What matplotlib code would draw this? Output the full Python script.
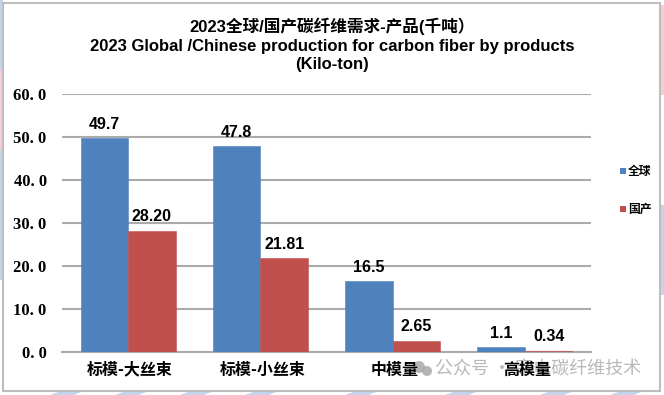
import matplotlib
matplotlib.use("Agg")
import matplotlib.pyplot as plt
from matplotlib.patches import Rectangle, Polygon, Circle
from matplotlib.transforms import ScaledTranslation
import numpy as np

categories = ["标模-大丝束", "标模-小丝束", "中模量", "高模量"]
global_vals = [49.7, 47.8, 16.5, 1.1]
china_vals = [28.20, 21.81, 2.65, 0.34]
global_labels = ["49.7", "47.8", "16.5", "1.1"]
china_labels = ["28.20", "21.81", "2.65", "0.34"]
y_ticks = [0, 10, 20, 30, 40, 50, 60]
y_tick_labels = ["0. 0", "10. 0", "20. 0", "30. 0", "40. 0", "50. 0", "60. 0"]
series_names = ["全球", "国产"]
title_lines = ["2023全球/国产碳纤维需求-产品(千吨）",
               "2023 Global /Chinese production for carbon fiber by products",
               "(Kilo-ton)"]
watermark = "公众号 · 寒电碳纤维技术"

W, H = 664, 395
BLUE, RED = "#4F81BD", "#C0504D"
SANS = ["Liberation Sans", "Noto Sans CJK SC", "DejaVu Sans"]
CJK = ["Noto Sans CJK SC", "DejaVu Sans"]

fig = plt.figure(figsize=(W / 100, H / 100), dpi=100, facecolor="white")

# page layer in pixel coordinates (y down)
bg = fig.add_axes([0, 0, 1, 1], zorder=0)
bg.set_xlim(0, W); bg.set_ylim(H, 0); bg.axis("off")
bg.add_patch(Rectangle((0, 0), 3, 70, fc="#C6D3EE", ec="none"))
bg.add_patch(Rectangle((0, 70), 3, 80, fc="#F5CDD3", ec="none"))
bg.add_patch(Rectangle((0, 150), 3, 130, fc="#C6D3EE", ec="none"))
bg.add_patch(Rectangle((660, 5), 4, 90, fc="#F5CDD3", ec="none"))
bg.add_patch(Rectangle((660, 205), 4, 90, fc="#C6D3EE", ec="none"))
for x0 in (50, 115, 180, 245, 345, 445, 540, 610):
    bg.add_patch(Polygon([(x0, 395), (x0 + 14, 390), (x0 + 36, 390), (x0 + 24, 395)],
                         fc="#C6D3EE", ec="none"))
bg.add_patch(Rectangle((2.5, 3), 657.5, 388, fc="white", ec="#BEBEBE", lw=1.5))

ax = fig.add_axes([62 / W, 1 - 352 / H, (591 - 62) / W, (352 - 94) / H], zorder=2)
ax.patch.set_alpha(0)
x = np.arange(len(categories))
bw = 0.36
b1 = ax.bar(x - bw / 2, global_vals, bw, color=BLUE, edgecolor=BLUE, linewidth=0.4, zorder=3)
b2 = ax.bar(x + bw / 2, china_vals, bw, color=RED, edgecolor=RED, linewidth=0.4, zorder=3)
ax.set_xlim(-0.5, 3.5)
ax.set_ylim(0, 60)
ax.set_yticks(y_ticks)
ax.set_yticklabels(y_tick_labels, family="Liberation Serif", fontweight="bold", fontsize=12)
ax.set_xticks(x)
ax.set_xticklabels(categories, family=CJK, fontweight="bold", fontsize=11.5)
ax.tick_params(length=0)
ax.tick_params(axis="y", pad=11)
ax.tick_params(axis="x", pad=7)
shift = ScaledTranslation(2 / 100, 0, fig.dpi_scale_trans)
for lab in ax.get_xticklabels():
    lab.set_transform(lab.get_transform() + shift)
ax.grid(axis="y", color="#ABABAB", lw=1.5, zorder=0)
ax.set_axisbelow(True)
for s in ("top", "right", "left"):
    ax.spines[s].set_visible(False)
ax.spines["bottom"].set_color("#ABABAB")
ax.spines["bottom"].set_linewidth(1.5)

for bars, labels in ((b1, global_labels), (b2, china_labels)):
    for r, t in zip(bars, labels):
        ax.annotate(t, (r.get_x() + r.get_width() / 2, r.get_height()),
                    xytext=(0, 4.5), textcoords="offset points", ha="center", va="bottom",
                    family=SANS, fontweight="bold", fontsize=11.5, color="black", zorder=5)

# overlay layer in pixel coordinates
top = fig.add_axes([0, 0, 1, 1], zorder=3)
top.set_xlim(0, W); top.set_ylim(H, 0); top.axis("off")
for yy, line, fs in zip((26, 46, 65), title_lines, (12, 12, 12)):
    top.text(332, yy, line, ha="center", va="center", family=SANS,
             fontweight="bold", fontsize=fs, color="black")

for yy, name, col in ((171, series_names[0], BLUE), (209, series_names[1], RED)):
    top.add_patch(Rectangle((620, yy - 3), 5.5, 6, fc=col, ec="none"))
    top.text(628, yy, name, ha="left", va="center", family=CJK,
             fontweight="bold", fontsize=8.5, color="black")

# watermark behind the category labels
wm_col = "#A8A8A8"
bg2 = fig.add_axes([0, 0, 1, 1], zorder=1)
bg2.set_xlim(0, W); bg2.set_ylim(H, 0); bg2.axis("off"); bg2.patch.set_alpha(0)
bg2.add_patch(Circle((419, 367), 6, fc=wm_col, ec="none", alpha=0.85))
bg2.add_patch(Circle((427, 371), 5, fc=wm_col, ec="none", alpha=0.85))
bg2.text(435, 369, watermark, ha="left", va="center", family=CJK,
         fontsize=13, color=wm_col, alpha=0.8)

fig.savefig("out.png", dpi=100, facecolor="white")
